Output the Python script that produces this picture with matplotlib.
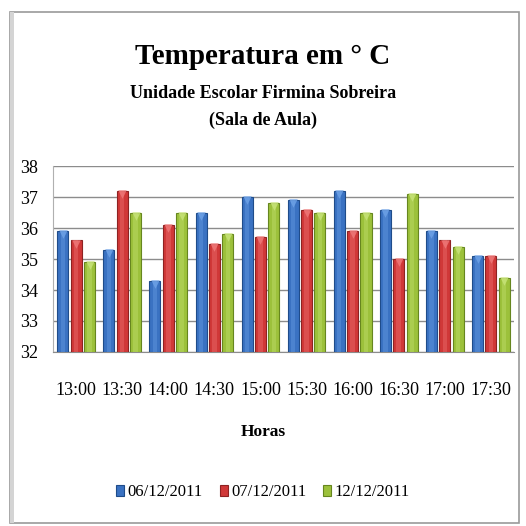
import numpy as np
import matplotlib.pyplot as plt
import matplotlib as mpl
from matplotlib.patches import Rectangle

mpl.rcParams.update({
    "font.family": ["Liberation Serif", "DejaVu Serif"],
})

horas = ["13:00", "13:30", "14:00", "14:30", "15:00",
         "15:30", "16:00", "16:30", "17:00", "17:30"]
d_0612 = [35.9, 35.3, 34.3, 36.5, 37.0, 36.9, 37.2, 36.6, 35.9, 35.1]
d_0712 = [35.6, 37.2, 36.1, 35.5, 35.7, 36.6, 35.9, 35.0, 35.6, 35.1]
d_1212 = [34.9, 36.5, 36.5, 35.8, 36.8, 36.5, 36.5, 37.1, 35.4, 34.4]
# label, values, fill, edge, highlight
series = [("06/12/2011", d_0612, "#3a72c2", "#1f4c8a", "#6fa3e8"),
          ("07/12/2011", d_0712, "#d03838", "#8e2222", "#f07a7a"),
          ("12/12/2011", d_1212, "#9cc13b", "#66861f", "#c8e47a")]

fig = plt.figure(figsize=(5.26, 5.26), dpi=100)
# outer chart frame
fig.patches.append(Rectangle((0.019, 0.006), 0.968, 0.971, transform=fig.transFigure,
                             fill=False, edgecolor="#9a9a9a", lw=1.2))
fig.patches.append(Rectangle((0.019, 0.006), 0.007, 0.971, transform=fig.transFigure,
                             facecolor="#d4d4d4", edgecolor="none"))

ax = fig.add_axes([0.101, 0.331, 0.876, 0.353])
x = np.arange(len(horas))
w = 0.24
step = 0.29
for i, (lab, vals, c, ec, hl) in enumerate(series):
    v = np.array(vals)
    xs = x + (i - 1) * step
    ax.bar(xs, v - 32, width=w, bottom=32, color=c, edgecolor=ec, lw=0.8,
           label=lab, zorder=3)
    # soft highlight down the middle of each bar
    ax.bar(xs, v - 32, width=w * 0.4, bottom=32, color=hl, alpha=0.35,
           lw=0, zorder=4)
    # bevel triangle at the top of each bar
    ax.scatter(xs, v - 0.1, marker="v", s=38, color=hl, alpha=0.8,
               lw=0, zorder=5)

ax.set_ylim(32, 38)
ax.set_xlim(-0.5, len(horas) - 0.5)
ax.set_yticks(range(32, 39))
ax.set_xticks(x)
ax.set_xticklabels(horas)
ax.yaxis.grid(True, color="#8c8c8c", lw=1.0, zorder=0)
ax.tick_params(axis="both", length=0, labelsize=13)
ax.tick_params(axis="x", pad=22)
ax.tick_params(axis="y", pad=11)
for s in ["top", "right"]:
    ax.spines[s].set_visible(False)
ax.spines["left"].set_color("#b0b0b0")
ax.spines["bottom"].set_color("#8c8c8c")

fig.text(0.5, 0.893, "Temperatura em ° C", ha="center", va="center",
         fontsize=21, fontweight="bold")
fig.text(0.5, 0.822, "Unidade Escolar Firmina Sobreira", ha="center", va="center",
         fontsize=13, fontweight="bold")
fig.text(0.5, 0.772, "(Sala de Aula)", ha="center", va="center",
         fontsize=13, fontweight="bold")
fig.text(0.5, 0.178, "Horas", ha="center", va="center",
         fontsize=12.5, fontweight="bold")

fig.legend(loc="center", bbox_to_anchor=(0.5, 0.064), ncol=3, frameon=False,
           fontsize=12, handlelength=0.5, handleheight=0.7, handletextpad=0.2,
           columnspacing=1.0)

fig.savefig("out.png", dpi=100)
